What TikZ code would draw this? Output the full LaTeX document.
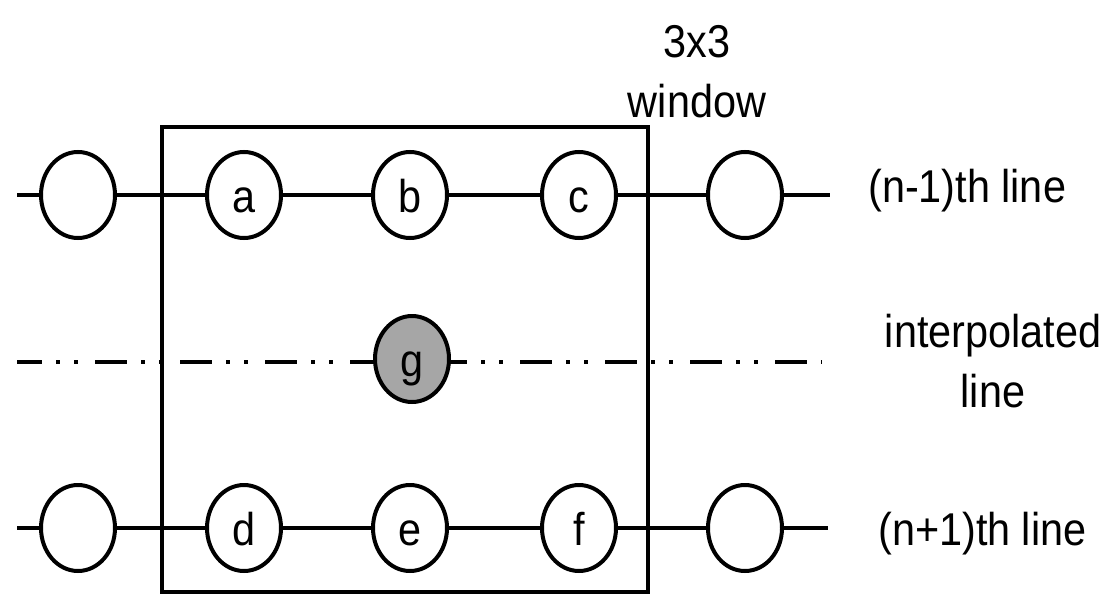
\documentclass[tikz,border=0pt]{standalone}
\usepackage{fontspec}
\setmainfont[FakeStretch=0.9]{Liberation Sans}
\usetikzlibrary{shapes.geometric}
\begin{document}
\begin{tikzpicture}[x=1pt,y=-1pt,
  pix/.style={ellipse, draw, line width=4pt, minimum width=74pt, minimum height=86pt,
    inner sep=0pt, fill=white, text height=34pt, text depth=0pt,
    font=\fontsize{46}{50}\selectfont},
  link/.style={line width=4pt},
  lbl/.style={font=\fontsize{46}{60}\selectfont, inner sep=0pt, align=center},
  dashdotdot/.style={line width=4.2pt, dash pattern=on 32pt off 14pt on 4pt off 14pt on 4pt off 17pt, dash phase=7pt}
]
\useasboundingbox (0,0) rectangle (1107,594);

% 3x3 window frame
\coordinate (wtl) at (162,127);
\coordinate (wbr) at (648,592);
\draw[line width=4.2pt] (wtl) rectangle (wbr);

% interpolated line (behind the pixels)
\coordinate (ms) at (17,362);
\coordinate (me) at (822,362);
\draw[dashdotdot] (ms) -- (me);

% (n-1)th line
\coordinate (ts) at (17,195);
\coordinate (te) at (830,195);
\node[pix] (tl) at (78,195) {};
\node[pix] (a) at (244,195) {a};
\node[pix] (b) at (410,195) {b};
\node[pix] (c) at (579,195) {c};
\node[pix] (tr) at (745,195) {};
\draw[link] (ts) -- (tl) (tl) -- (a) (a) -- (b) (b) -- (c) (c) -- (tr) (tr) -- (te);

% (n+1)th line
\coordinate (bs) at (17,528);
\coordinate (be) at (828,528);
\node[pix] (bl) at (78,528) {};
\node[pix] (d) at (244,528) {d};
\node[pix] (e) at (410,528) {e};
\node[pix] (f) at (579,528) {f};
\node[pix] (br) at (745,528) {};
\draw[link] (bs) -- (bl) (bl) -- (d) (d) -- (e) (e) -- (f) (f) -- (br) (br) -- (be);

% interpolated pixel
\node[pix, fill=black!35] (g) at (412,359) {g};

% labels
\node[lbl, anchor=base] (win) at (697,117) {3x3\\window};
\node[lbl, anchor=base west] (up) at (868,202) {(n-1)th line};
\node[lbl, anchor=base] (mid) at (993,407) {interpolated\\line};
\node[lbl, anchor=base west] (low) at (878,545) {(n+1)th line};
\end{tikzpicture}
\end{document}
